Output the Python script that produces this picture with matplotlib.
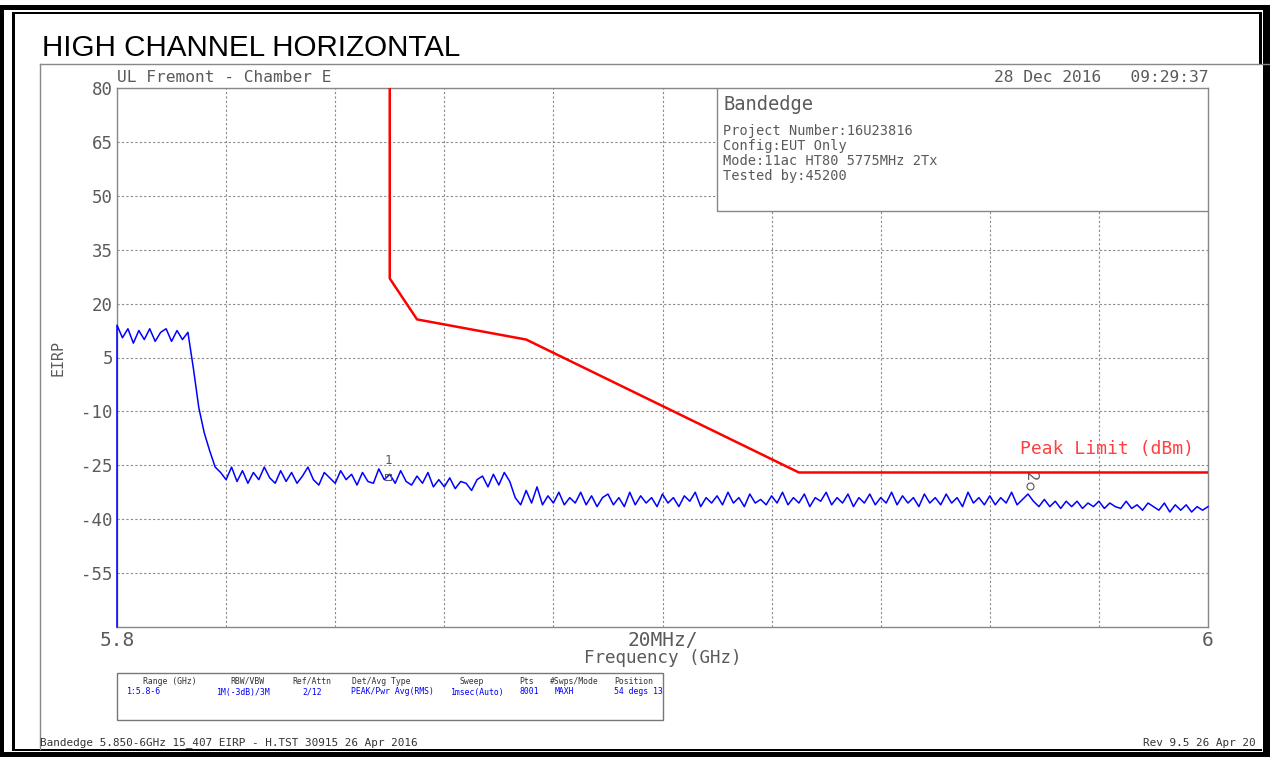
import numpy as np
import matplotlib
matplotlib.use("Agg")
import matplotlib.pyplot as plt
from matplotlib.patches import Rectangle

# ---- data ----
freq_start = 5.8
freq_stop = 6.0
trace_start_level = -70  # the trace starts from the bottom of the screen
trace_dbm = [
    14, 10.5, 13, 9, 12.5, 10, 13, 9.5, 12, 13,
    9.5, 12.5, 10, 12, 2, -9, -16, -21, -25.5, -27,
    -29, -25.5, -29.5, -26.5, -30, -27, -29, -25.5, -28.5, -30,
    -26.5, -29.5, -27, -30, -28, -25.5, -29, -30.5, -27, -28.5,
    -30, -26.5, -29, -27.5, -30.5, -27, -29.5, -30, -26, -29,
    -27.5, -30, -26.5, -29.5, -30.5, -28, -30, -27, -31, -29,
    -31, -28.5, -31.5, -29.5, -30, -32, -29, -28, -31, -27.5,
    -30.5, -27, -29.5, -34, -36, -32, -35.5, -31, -36, -33.5,
    -35.5, -32.5, -36, -34, -35.5, -32.5, -36, -33.5, -36.5, -34,
    -33, -36, -34, -36.5, -32.5, -36, -33.5, -35.5, -34, -36.5,
    -33, -35.5, -34, -36.5, -33.5, -35, -32.5, -36.5, -34, -35.5,
    -33.5, -36, -32.5, -35.5, -34, -36.5, -33, -35.5, -34.5, -36,
    -33.5, -35.5, -32.5, -36, -34, -35.5, -33, -36.5, -34, -35,
    -32.5, -36, -34, -35.5, -33, -36.5, -34, -35.5, -33, -36,
    -34, -35.5, -32.5, -36, -33.5, -35.5, -34, -36.5, -33, -35.5,
    -34, -36, -33, -35.5, -34, -36.5, -32.5, -35.5, -34, -36,
    -33.5, -36, -34, -35.5, -32.5, -36, -34.5, -33, -35, -36.5,
    -34.5, -36.5, -35, -37, -35, -36.5, -35, -37, -35.5, -36.5,
    -35, -37, -35.5, -36.5, -37, -35, -37, -36, -37.5, -35.5,
    -36.5, -37.5, -35.5, -38, -36, -37.5, -36, -38, -36.5, -37.5,
    -36.5,
]
limit_freq = [5.85, 5.85, 5.855, 5.875, 5.925, 6.0]
limit_dbm = [80, 27, 15.6, 10, -27, -27]
marker_freq = [5.8497, 5.9674]
marker_dbm = [-28.3, -33]
marker_names = ["1", "2"]

y_ticks = [80, 65, 50, 35, 20, 5, -10, -25, -40, -55]

info_lines = ["Project Number:16U23816", "Config:EUT Only",
              "Mode:11ac HT80 5775MHz 2Tx", "Tested by:45200"]
table_heads = ["Range (GHz)", "RBW/VBW", "Ref/Attn", "Det/Avg Type", "Sweep",
               "Pts", "#Swps/Mode", "Position"]
table_vals = ["1:5.8-6", "1M(-3dB)/3M", "2/12", "PEAK/Pwr Avg(RMS)",
              "1msec(Auto)", "8001", "MAXH", "54 degs 13"]
head_x = [170, 247, 312, 381, 472, 527, 574, 634]
val_x = [127, 217, 302, 351, 451, 520, 555, 614]

W, H = 1270, 757
MONO = "DejaVu Sans Mono"
GREY = "#5a5a5a"

fig = plt.figure(figsize=(W / 100, H / 100), dpi=100)
fig.patch.set_facecolor("white")


def ptext(x, y, s, **kw):
    kw.setdefault("family", MONO)
    kw.setdefault("color", GREY)
    kw.setdefault("va", "center")
    return fig.text(x / W, 1 - y / H, s, **kw)


# background layer in pixel coords: borders, frames, table box
bg = fig.add_axes([0, 0, 1, 1])
bg.set_xlim(0, W)
bg.set_ylim(H, 0)
bg.axis("off")
for (x, y, w, h) in [(0, 5, 4, 752), (0, 5, W, 5), (1263, 5, 7, 752), (0, 752, W, 5),
                     (12, 12, 3, 739), (12, 12, 1250, 2), (1259, 12, 3, 52), (12, 749, 1250, 2)]:
    bg.add_patch(Rectangle((x, y), w, h, color="black", lw=0))
bg.plot([40, W], [64, 64], color="#888888", lw=1)
bg.plot([40, 40], [64, 749], color="#888888", lw=1)
table_box = Rectangle((117, 673), 546, 47, fill=False, edgecolor="#777777", lw=1)
bg.add_patch(table_box)

# main analyzer screen
ax = fig.add_axes([117 / W, 1 - 627 / H, 1091 / W, 539 / H])
ax.set_xlim(freq_start, freq_stop)
ax.set_ylim(-70, 80)

x_grid = np.linspace(freq_start, freq_stop, 11)
x_labels = ["5.8"] + [""] * 4 + ["20MHz/"] + [""] * 4 + ["6"]
ax.set_xticks(x_grid)
ax.set_xticklabels(x_labels)
ax.set_yticks(y_ticks)
ax.set_yticklabels([str(v) for v in y_ticks])
ax.tick_params(length=0, colors=GREY)
ax.tick_params(axis="x", labelsize=14, pad=3)
ax.tick_params(axis="y", labelsize=12.5, pad=3)
for lab in ax.get_xticklabels() + ax.get_yticklabels():
    lab.set_family(MONO)
ax.grid(True, color="#8a8a8a", linestyle=(0, (2, 2)), lw=0.8)
for sp in ax.spines.values():
    sp.set_color("#888888")
    sp.set_linewidth(1)

n = len(trace_dbm)
f = np.linspace(freq_start, freq_stop, n)
ax.plot(np.r_[freq_start, f], np.r_[trace_start_level, trace_dbm], color="#0000ff", lw=1.1,
        clip_on=False, zorder=4)
ax.plot(limit_freq, limit_dbm, color="#ff0000", lw=1.8, zorder=4)

# markers
ax.plot(marker_freq[0], marker_dbm[0], marker="s", ms=5, mfc="none", mec="#555555", mew=0.8, zorder=5)
ax.annotate(marker_names[0], (marker_freq[0], marker_dbm[0]), xytext=(0, 7), textcoords="offset points",
            ha="center", va="bottom", color=GREY, family=MONO, fontsize=9)
ax.annotate(marker_names[1], (marker_freq[1], marker_dbm[1]), xytext=(0, 9), textcoords="offset points",
            ha="center", va="bottom", color=GREY, family=MONO, fontsize=11, rotation=270)
ax.plot(marker_freq[1], marker_dbm[1] + 2.2, marker="o", ms=5, mfc="none", mec="#555555", mew=0.8, zorder=5)

# info box in upper right
ax.add_patch(Rectangle((0.55, 0.772), 0.45, 0.228, transform=ax.transAxes,
                       facecolor="white", edgecolor="#888888", lw=1, zorder=6))

# texts
ptext(42, 48, "HIGH CHANNEL HORIZONTAL", family="Liberation Sans", color="black", fontsize=21.3)
ptext(117, 77, "UL Fremont - Chamber E", fontsize=11.7)
ptext(1208, 77, "28 Dec 2016   09:29:37", fontsize=11.7, ha="right")
ptext(723, 104, "Bandedge", fontsize=13.5)
for i, line in enumerate(info_lines):
    ptext(723, 131 + 15 * i, line, fontsize=9.8)
ptext(1020, 449, "Peak Limit (dBm)", color="#ff4040", fontsize=13)
ptext(663, 658, "Frequency (GHz)", fontsize=12.6, ha="center")
ptext(58, 358, "EIRP", fontsize=10.8, ha="center", rotation=90)
for hx, hs in zip(head_x, table_heads):
    ptext(hx, 681, hs, fontsize=5.9, ha="center", color="#333333")
for vx, vs in zip(val_x, table_vals):
    t = ptext(vx, 692, vs, fontsize=5.9, color="#0000ff")
    t.set_clip_path(table_box)
ptext(40, 743, "Bandedge 5.850-6GHz 15_407 EIRP - H.TST 30915 26 Apr 2016", fontsize=7.9, color="#333333")
ptext(1256, 743, "Rev 9.5 26 Apr 20", fontsize=7.9, color="#333333", ha="right")

fig.savefig("out.png", dpi=100)
